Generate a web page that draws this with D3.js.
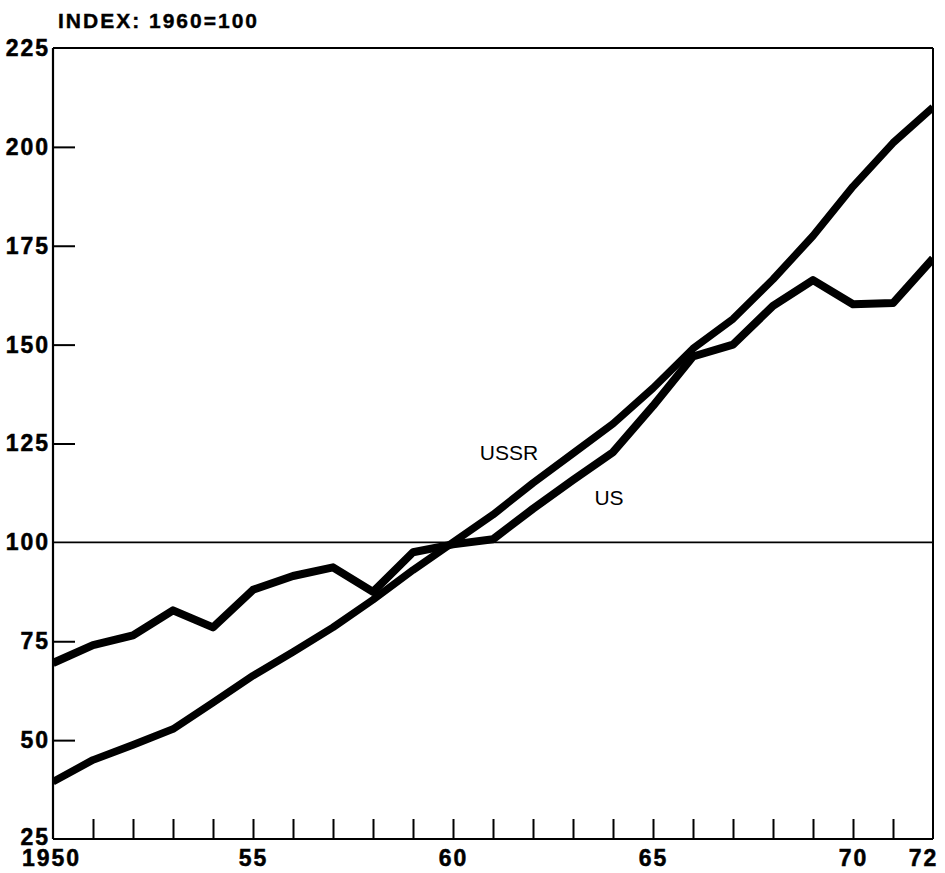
<!DOCTYPE html>
<html>
<head>
<meta charset="utf-8">
<script src="https://cdn.jsdelivr.net/npm/d3@7"></script>
<style>
  html, body { margin: 0; padding: 0; background: #fff; }
  svg { display: block; }
  text { font-family: "Liberation Sans", Arial, Helvetica, sans-serif; fill: #000; }
</style>
</head>
<body>
<svg id="chart" width="945" height="873"></svg>
<script>
// ---- data ----
const years = d3.range(1950, 1973);
const usValues = [69.5, 74, 76.5, 82.8, 78.5, 88, 91.5, 93.7, 87.5, 97.5, 99.5, 100.8, 108.5, 115.8, 122.8, 134.5, 147, 150, 159.8, 166.3, 160.2, 160.5, 171.8];
const ussrValues = [39.5, 45, 48.8, 52.8, 59.5, 66.3, 72.3, 78.5, 85.5, 93, 100, 107, 115, 122.5, 130, 139, 149, 156.5, 166.5, 177.5, 190, 201, 210];
const yTickValues = [25, 50, 75, 100, 125, 150, 175, 200, 225];
const xLabelValues = [1950, 1955, 1960, 1965, 1970, 1972];
const xLabelText = ["1950", "55", "60", "65", "70", "72"];
const titleText = "INDEX: 1960=100";
const seriesLabels = [{name: "USSR", year: 1961.4, value: 120.8}, {name: "US", year: 1963.9, value: 109.4}];

// ---- layout ----
const mLeft = 53, mRight = 933, mTop = 48, mBottom = 839;
const svg = d3.select("#chart");
const x = d3.scaleLinear().domain([1950, 1972]).range([mLeft, mRight]);
const y = d3.scaleLinear().domain([25, 225]).range([mBottom, mTop]);

// title
svg.append("text")
  .attr("x", 58).attr("y", 28)
  .attr("font-size", 21).attr("font-weight", "bold")
  .attr("letter-spacing", 2)
  .attr("stroke", "#000").attr("stroke-width", 0.4)
  .text(titleText);

// frame: left axis, bottom axis, top, right
const frame = svg.append("g").attr("stroke", "#000").attr("fill", "none");
frame.append("line").attr("x1", x(1950)).attr("x2", x(1950)).attr("y1", y(225)).attr("y2", y(25)).attr("stroke-width", 2.2);
frame.append("line").attr("x1", x(1950)).attr("x2", x(1972)).attr("y1", y(25)).attr("y2", y(25)).attr("stroke-width", 2.2);
frame.append("line").attr("x1", x(1950)).attr("x2", x(1972)).attr("y1", y(225)).attr("y2", y(225)).attr("stroke-width", 2);
frame.append("line").attr("x1", x(1972)).attr("x2", x(1972)).attr("y1", y(225)).attr("y2", y(25)).attr("stroke-width", 2);
// 100 reference line
frame.append("line").attr("x1", x(1950)).attr("x2", x(1972)).attr("y1", y(100)).attr("y2", y(100)).attr("stroke-width", 1.6);

// y labels
const yLab = svg.append("g").attr("transform", `translate(${mLeft},0)`)
  .call(d3.axisLeft(y).tickValues(yTickValues).tickSize(0).tickPadding(3).tickFormat(d3.format("d")));
yLab.select(".domain").remove();
yLab.selectAll("text").attr("font-size", 23).attr("font-weight", "bold")
  .attr("letter-spacing", 2).attr("font-family", "Liberation Sans, Arial, sans-serif")
  .attr("stroke", "#000").attr("stroke-width", 0.5);
yLab.selectAll(".tick").filter(d => d === 25).select("text").attr("dy", "0.25em");

// inner y ticks
const yIn = svg.append("g").attr("transform", `translate(${mLeft},0)`)
  .call(d3.axisRight(y).tickValues([50, 75, 125, 150, 175, 200]).tickSize(22).tickFormat(""));
yIn.select(".domain").remove();
yIn.selectAll("line").attr("stroke", "#000").attr("stroke-width", 2);

// x ticks upward
const xIn = svg.append("g").attr("transform", `translate(0,${mBottom})`)
  .call(d3.axisTop(x).tickValues(d3.range(1951, 1972)).tickSize(20).tickFormat(""));
xIn.select(".domain").remove();
xIn.selectAll("line").attr("stroke", "#000").attr("stroke-width", 2);

// x labels
const xLab = svg.append("g").attr("transform", `translate(0,${mBottom})`)
  .call(d3.axisBottom(x).tickValues(xLabelValues).tickSize(0).tickPadding(11)
    .tickFormat((d, i) => xLabelText[i]));
xLab.select(".domain").remove();
xLab.selectAll("text").attr("font-size", 23).attr("font-weight", "bold")
  .attr("letter-spacing", 2).attr("font-family", "Liberation Sans, Arial, sans-serif")
  .attr("stroke", "#000").attr("stroke-width", 0.5);
xLab.selectAll(".tick").filter(d => d === 1950).select("text").attr("dx", -2);
xLab.selectAll(".tick").filter(d => d === 1972).select("text").attr("dx", -10);

// clip
svg.append("clipPath").attr("id", "plot").append("rect")
  .attr("x", mLeft).attr("y", mTop).attr("width", mRight - mLeft).attr("height", mBottom - mTop);

const line = d3.line().x((d, i) => x(years[i])).y(d => y(d));
const g = svg.append("g").attr("clip-path", "url(#plot)");
g.append("path").datum(usValues).attr("d", line)
  .attr("fill", "none").attr("stroke", "#000").attr("stroke-width", 8).attr("stroke-linejoin", "round");
g.append("path").datum(ussrValues).attr("d", line)
  .attr("fill", "none").attr("stroke", "#000").attr("stroke-width", 7.5).attr("stroke-linejoin", "round");

// series labels
svg.selectAll("text.series").data(seriesLabels).enter().append("text")
  .attr("class", "series")
  .attr("x", d => x(d.year)).attr("y", d => y(d.value))
  .attr("text-anchor", "middle")
  .attr("font-size", 21)
  .text(d => d.name);
</script>
</body>
</html>
